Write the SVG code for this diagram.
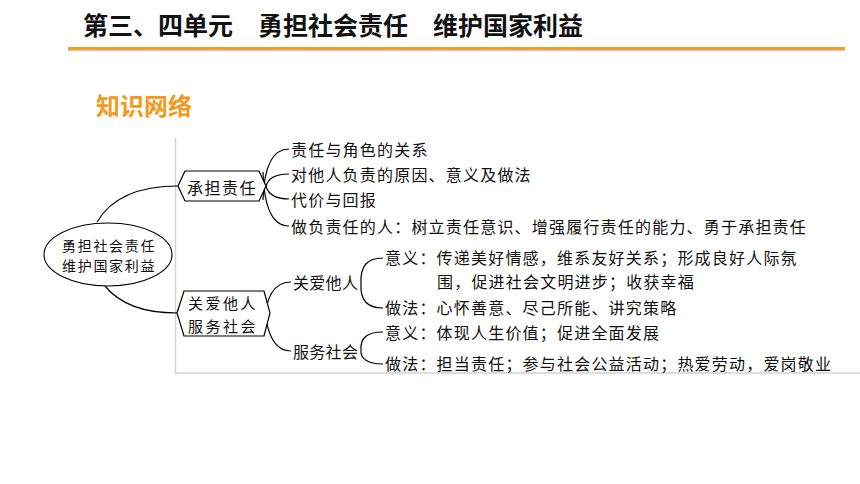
<svg xmlns="http://www.w3.org/2000/svg" width="860" height="484" viewBox="0 0 860 484">
<style>
text{font-family:"Noto Sans CJK SC","Noto Sans",sans-serif;dominant-baseline:central;fill:#111}
.t{font-size:16px;letter-spacing:1.2px}
.n{font-size:16px;letter-spacing:1.5px}
.n2{font-size:15px;letter-spacing:2.5px}
.e{font-size:14px;letter-spacing:1.7px}
.s{font-size:16px;letter-spacing:0.3px}
.ln{fill:none;stroke:#000;stroke-width:1.2}
.box{fill:#fff;stroke:#000;stroke-width:1.2}
</style>
<rect width="860" height="484" fill="#fff"/>
<g id="header">
<text x="83" y="24" style="font-size:25px;font-weight:bold">第三、四单元　勇担社会责任　维护国家利益</text>
<line x1="68" y1="50.5" x2="845" y2="50.5" stroke="#cfcfcf" stroke-width="1.5"/>
<line x1="68" y1="48.5" x2="845" y2="48.5" stroke="#f2a022" stroke-width="3"/>
<text x="96" y="104" style="font-size:24px;font-weight:bold;fill:#f39a1e">知识网络</text>
</g>
<g id="frame" fill="none" stroke="#d2d2d2" stroke-width="1.5">
<path d="M175.5,138 V373 H860"/>
</g>
<g id="connectors" class="ln">
<path d="M97,222 C110,200 135,186 178,186"/>
<path d="M105,286 C118,302 140,313 177,313"/>
<path d="M263,200 C264,166 272,149 289,149"/>
<path d="M266,186 C268,179 275,174 289,174"/>
<path d="M266,186 C268,194 275,199 289,199"/>
<path d="M263,172 C264,208 272,226 289,226"/>
<path d="M264,330 C265,296 274,282 291,282"/>
<path d="M264,296 C265,334 274,351 291,351"/>
<path d="M361,284 C360,266 367,258 383,258"/>
<path d="M361,284 C360,300 367,308 383,308"/>
<path d="M361,350 C360,338 367,332 383,332"/>
<path d="M361,350 C360,358 367,364 383,364"/>
</g>
<g id="root">
<ellipse cx="108" cy="254.5" rx="64" ry="31.5" fill="#fff" stroke="#000" stroke-width="1.1"/>
<text class="e" x="62" y="245">勇担社会责任</text>
<text class="e" x="62" y="265">维护国家利益</text>
</g>
<g id="node-responsibility">
<polygon class="box" points="178,186 185,171 259,171 266,186 259,201 185,201"/>
<text class="n" x="187" y="187">承担责任</text>
</g>
<g id="node-care-serve">
<polygon class="box" points="177,313 184,291 264,291 270,313 264,336 184,336"/>
<text class="n2" x="188" y="302">关爱他人</text>
<text class="n2" x="188" y="325">服务社会</text>
</g>
<g id="items-responsibility">
<text class="t" x="291" y="149">责任与角色的关系</text>
<text class="t" x="291" y="174">对他人负责的原因、意义及做法</text>
<text class="t" x="291" y="199">代价与回报</text>
<text class="t" x="291" y="226">做负责任的人：树立责任意识、增强履行责任的能力、勇于承担责任</text>
</g>
<g id="node-care">
<text class="s" x="293" y="282">关爱他人</text>
<text class="t" x="385" y="257">意义：传递美好情感，维系友好关系；形成良好人际氛</text>
<text class="t" x="437" y="281">围，促进社会文明进步；收获幸福</text>
<text class="t" x="385" y="307">做法：心怀善意、尽己所能、讲究策略</text>
</g>
<g id="node-serve">
<text class="s" x="293" y="351">服务社会</text>
<text class="t" x="385" y="332">意义：体现人生价值；促进全面发展</text>
<text class="t" x="385" y="363">做法：担当责任；参与社会公益活动；热爱劳动，爱岗敬业</text>
</g>
</svg>
